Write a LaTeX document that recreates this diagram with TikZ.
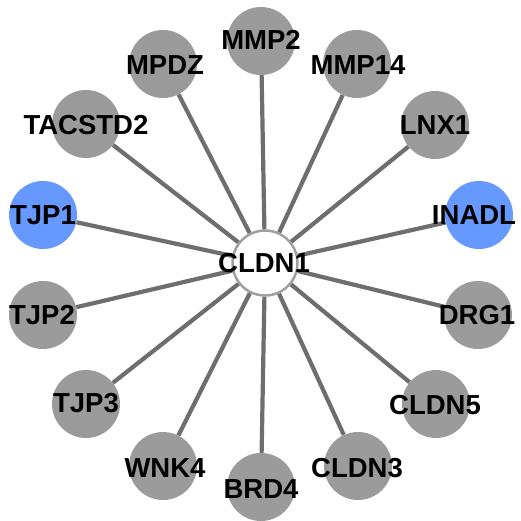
\documentclass[tikz,border=0pt]{standalone}
\usepackage{fontspec}
\setmainfont{Liberation Sans}
\usetikzlibrary{backgrounds}
\definecolor{nodegray}{HTML}{9B9B9B}
\definecolor{nodeblue}{HTML}{6699FF}
\definecolor{edgegray}{HTML}{6E6E6E}
\definecolor{ringgray}{HTML}{A0A0A0}
\tikzset{
  gene/.style={circle, minimum size=68pt, inner sep=0pt, fill=nodegray},
  blue gene/.style={gene, fill=nodeblue},
  hub/.style={circle, minimum size=65pt, inner sep=0pt, fill=white, draw=ringgray, line width=2.5pt},
  lbl/.style={font=\bfseries\fontsize{27.5}{27.5}\selectfont, inner sep=0pt, text=black},
  edge/.style={draw=edgegray, line width=4.2pt}
}
\begin{document}
\begin{tikzpicture}[x=1pt,y=-1pt]
\useasboundingbox (0,0) rectangle (521,521);
\node[hub] (c) at (265,263) {};
\node[gene] (mmp2) at (261,41) {};
\node[gene] (mpdz) at (163,64) {};
\node[gene] (mmp14) at (357,64) {};
\node[gene] (tacstd2) at (86,124) {};
\node[gene] (lnx1) at (435,125) {};
\node[blue gene] (tjp1) at (43,215) {};
\node[blue gene] (inadl) at (479,215) {};
\node[gene] (tjp2) at (43,315) {};
\node[gene] (drg1) at (478,315) {};
\node[gene] (tjp3) at (86,404) {};
\node[gene] (cldn5) at (436,404) {};
\node[gene] (wnk4) at (163,466) {};
\node[gene] (cldn3) at (358,466) {};
\node[gene] (brd4) at (261,487) {};
\begin{scope}[on background layer]
\foreach \n in {mmp2,mpdz,mmp14,tacstd2,lnx1,tjp1,inadl,tjp2,drg1,tjp3,cldn5,wnk4,cldn3,brd4}
  \draw[edge] (c) -- (\n);
\end{scope}
\node[lbl] (lc) at (264,263) {CLDN1};
\node[lbl] (l1) at (261,40) {MMP2};
\node[lbl] (l2) at (165,65) {MPDZ};
\node[lbl] (l3) at (358,65) {MMP14};
\node[lbl] (l4) at (86,125) {TACSTD2};
\node[lbl] (l5) at (435,125) {LNX1};
\node[lbl] (l6) at (43,215) {TJP1};
\node[lbl] (l7) at (474,215) {INADL};
\node[lbl] (l8) at (42,315) {TJP2};
\node[lbl] (l9) at (477,315) {DRG1};
\node[lbl] (l10) at (86,403) {TJP3};
\node[lbl] (l11) at (435,405) {CLDN5};
\node[lbl] (l12) at (165,468) {WNK4};
\node[lbl] (l13) at (357,468) {CLDN3};
\node[lbl] (l14) at (261,489) {BRD4};
\end{tikzpicture}
\end{document}
